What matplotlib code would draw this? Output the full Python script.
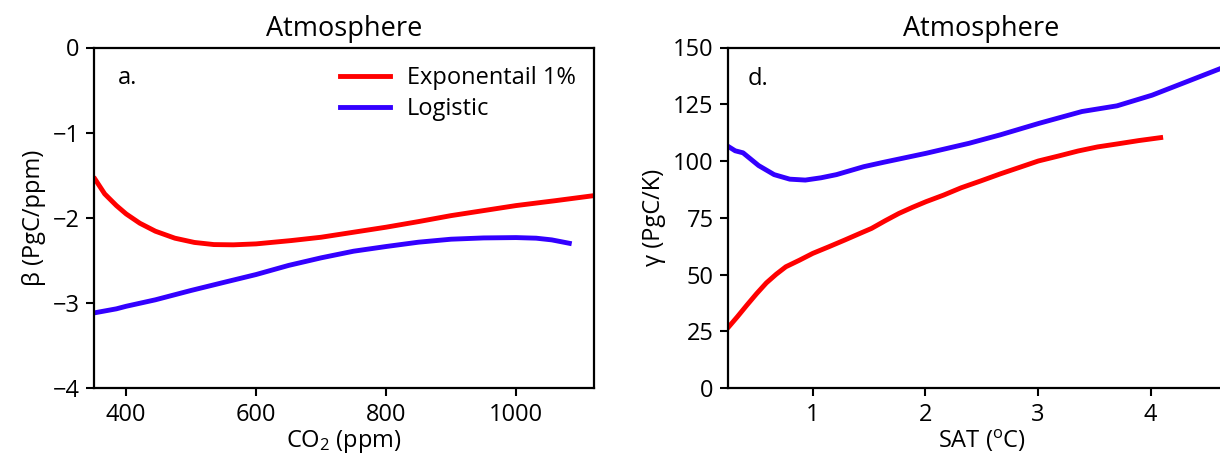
import matplotlib
matplotlib.use("Agg")
import matplotlib.pyplot as plt

plt.rcParams['font.family'] = ['Open Sans', 'DejaVu Sans']
plt.rcParams['mathtext.fontset'] = 'custom'
plt.rcParams['mathtext.rm'] = 'Open Sans'
plt.rcParams['mathtext.it'] = 'Open Sans'
plt.rcParams['mathtext.bf'] = 'Open Sans'

# panel a: beta vs CO2
co2_exp = [352, 367, 385, 400, 421, 445, 475, 505, 535, 565, 600, 654, 700, 750, 800,
           850, 900, 950, 1000, 1060, 1120]
beta_exp = [-1.545, -1.72, -1.857, -1.955, -2.064, -2.158, -2.24, -2.29, -2.315, -2.318,
            -2.307, -2.268, -2.229, -2.17, -2.111, -2.045, -1.975, -1.916, -1.857, -1.80, -1.74]
co2_log = [352, 385, 400, 445, 500, 550, 600, 650, 700, 750, 800, 850, 900, 950, 1000,
           1031, 1055, 1082]
beta_log = [-3.116, -3.07, -3.04, -2.964, -2.854, -2.76, -2.667, -2.56, -2.471, -2.393,
            -2.338, -2.287, -2.252, -2.237, -2.233, -2.24, -2.26, -2.30]

# panel d: gamma vs SAT
sat_exp = [0.253, 0.329, 0.415, 0.502, 0.588, 0.675, 0.761, 0.882, 1.0, 1.142, 1.28, 1.419,
           1.522, 1.644, 1.765, 1.886, 2.007, 2.163, 2.318, 2.491, 2.664, 2.837, 3.003,
           3.183, 3.356, 3.529, 3.702, 3.896, 4.09]
gamma_exp = [26.9, 31.3, 36.5, 41.6, 46.3, 50.1, 53.4, 56.3, 59.3, 62.2, 65.1, 68.1,
             70.3, 73.7, 76.9, 79.6, 82.1, 85.0, 88.2, 91.2, 94.3, 97.2, 100.0,
             102.2, 104.4, 106.2, 107.5, 109.0, 110.3]
sat_log = [0.253, 0.311, 0.381, 0.519, 0.657, 0.796, 0.934, 1.073, 1.211, 1.453, 1.626,
           2.007, 2.388, 2.664, 3.010, 3.391, 3.702, 4.014, 4.325, 4.630]
gamma_log = [106.3, 104.5, 103.6, 98.0, 94.0, 92.0, 91.6, 92.6, 94.0, 97.5, 99.4,
             103.4, 107.8, 111.5, 116.6, 121.8, 124.3, 129.0, 135.0, 140.9]

red = '#ff0000'
blue = '#3300ff'
fs = 17

fig = plt.figure(figsize=(12.2, 4.59), dpi=100)
ax1 = fig.add_axes([94.3 / 1220, 71 / 459, 499.7 / 1220, 340.5 / 459])
ax2 = fig.add_axes([728.3 / 1220, 71 / 459, 506.7 / 1220, 340.5 / 459])

ax1.plot(co2_exp, beta_exp, color=red, lw=3.5, label='Exponentail 1%')
ax1.plot(co2_log, beta_log, color=blue, lw=3.5, label='Logistic')
ax1.set_xlim(351, 1120)
ax1.set_ylim(-4, 0)
ax1.set_xticks([400, 600, 800, 1000])
ax1.set_yticks([-4, -3, -2, -1, 0])
ax1.set_yticklabels(['\u22124', '\u22123', '\u22122', '\u22121', '0'])
ax1.set_xlabel('CO$_\\mathrm{2}$ (ppm)', fontsize=fs, labelpad=1)
ax1.set_ylabel('\u03b2 (PgC/ppm)', fontsize=fs, labelpad=5)
ax1.set_title('Atmosphere', fontsize=19.5, pad=8)
ax1.text(0.048, 0.893, 'a.', transform=ax1.transAxes, fontsize=fs, va='baseline')
ax1.legend(loc='upper left', bbox_to_anchor=(0.45, 1.008), frameon=False, fontsize=fs,
           handlelength=2.1, handletextpad=0.7, labelspacing=0.3)

ax2.plot(sat_exp, gamma_exp, color=red, lw=3.5)
ax2.plot(sat_log, gamma_log, color=blue, lw=3.5)
ax2.set_xlim(0.25, 4.75)
ax2.set_ylim(0, 150)
ax2.set_xticks([1, 2, 3, 4])
ax2.set_yticks([0, 25, 50, 75, 100, 125, 150])
ax2.set_xlabel('SAT ($^{\\mathrm{o}}$C)', fontsize=fs, labelpad=1)
ax2.set_ylabel('\u03b3 (PgC/K)', fontsize=fs, labelpad=5)
ax2.set_title('Atmosphere', fontsize=19.5, pad=8)
ax2.text(0.0375, 0.89, 'd.', transform=ax2.transAxes, fontsize=fs, va='baseline')

for ax in (ax1, ax2):
    for s in ax.spines.values():
        s.set_linewidth(1.6)
    ax.tick_params(direction='out', length=5.5, width=1.5, labelsize=fs, pad=5)

fig.savefig('out.png', dpi=100)
